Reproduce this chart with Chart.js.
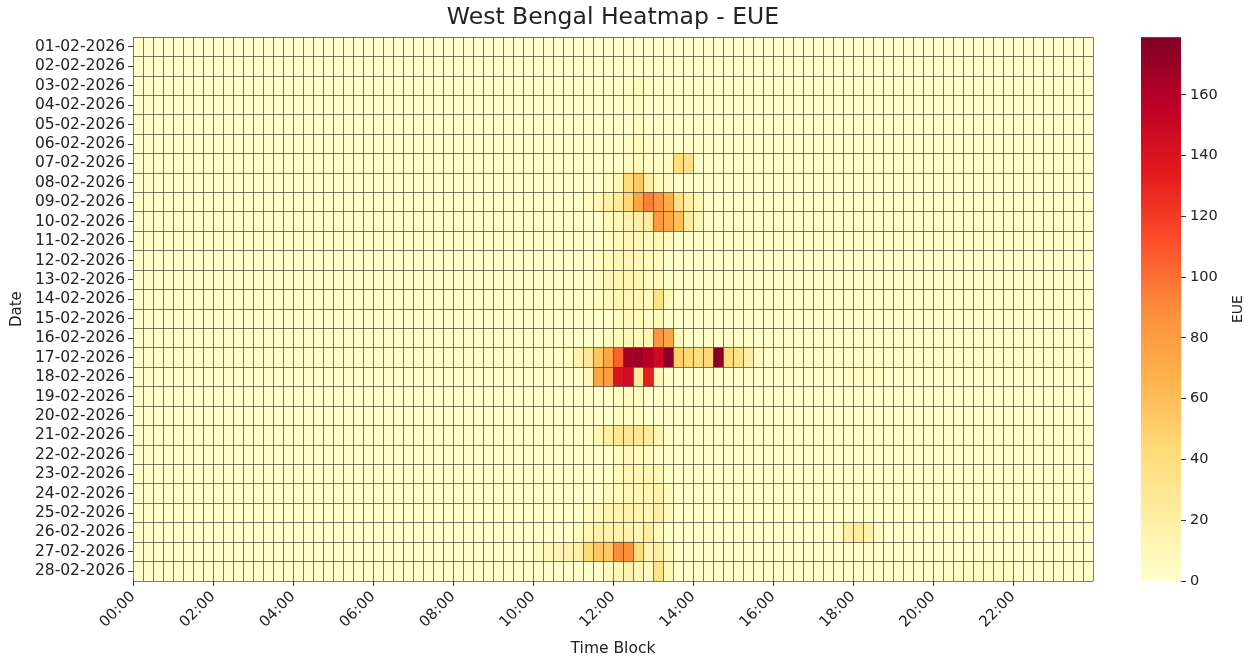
<!DOCTYPE html>
<html>
<head>
<meta charset="utf-8">
<title>West Bengal Heatmap - EUE</title>
<script src="https://cdn.jsdelivr.net/npm/chart.js@4.4.1/dist/chart.umd.min.js"></script>
<style>
    html, body { margin: 0; padding: 0; background: #fff; }
    #wrap { width: 1254px; height: 658px; }
</style>
</head>
<body>
<div id="wrap"><canvas id="heatmap" width="1254" height="658"></canvas></div>
<script>
// Rows of the heatmap, top to bottom
const dates = [
    '01-02-2026', '02-02-2026', '03-02-2026', '04-02-2026', '05-02-2026', '06-02-2026', '07-02-2026',
    '08-02-2026', '09-02-2026', '10-02-2026', '11-02-2026', '12-02-2026', '13-02-2026', '14-02-2026',
    '15-02-2026', '16-02-2026', '17-02-2026', '18-02-2026', '19-02-2026', '20-02-2026', '21-02-2026',
    '22-02-2026', '23-02-2026', '24-02-2026', '25-02-2026', '26-02-2026', '27-02-2026', '28-02-2026'
];

// x axis labels, one every 8 blocks of 15 min
const timeTicks = ['00:00', '02:00', '04:00', '06:00', '08:00', '10:00',
                   '12:00', '14:00', '16:00', '18:00', '20:00', '22:00'];
const colorbarTicks = [0, 20, 40, 60, 80, 100, 120, 140, 160];

const blockCount = 96;
const eueMax = 179;

// Non-zero EUE cells: [date index, first time block, values for consecutive blocks]
const eueRuns = [
    [2, 49, [4, 8, 4]],
    [3, 50, [5]],
    [4, 50, [5]],
    [5, 49, [4, 8, 5]],
    [6, 49, [6, 8, 5, 4, 4, 40, 36]],
    [7, 47, [6, 10, 40, 55, 20, 8, 6]],
    [8, 45, [5, 10, 18, 25, 45, 75, 95, 85, 70, 35, 20, 10]],
    [9, 47, [8, 10, 15, 20, 25, 82, 75, 60, 22, 10]],
    [10, 47, [5, 8, 10, 10, 8, 10, 6]],
    [11, 46, [5, 8, 12, 12, 10, 8, 6]],
    [12, 46, [6, 10, 14, 14, 12, 8, 6]],
    [13, 46, [5, 8, 12, 12, 10, 8, 35, 8]],
    [14, 48, [6, 8, 8, 6, 10]],
    [15, 47, [6, 8, 10, 10, 12, 85, 75, 8]],
    [16, 43, [5, 15, 28, 55, 75, 105, 165, 168, 160, 148, 176, 50, 45, 40, 45, 176, 40, 35, 20, 6]],
    [17, 45, [12, 75, 80, 140, 145, 25, 132, 10]],
    [17, 71, [4, 5, 5, 4]],
    [18, 48, [5, 6, 5]],
    [19, 48, [4, 5, 4]],
    [20, 46, [10, 22, 28, 30, 28, 25, 12]],
    [21, 48, [6, 8, 8, 6]],
    [22, 48, [8, 12, 12, 12, 10]],
    [23, 47, [6, 8, 12, 12, 12, 18, 8]],
    [24, 45, [6, 10, 15, 15, 15, 15, 12, 20, 8]],
    [25, 44, [8, 12, 18, 18, 18, 15, 12, 22, 8]],
    [25, 70, [6, 20, 25, 18, 6]],
    [26, 40, [8, 10, 12, 15, 18, 45, 55, 55, 90, 88, 40, 15, 20, 8]],
    [27, 47, [6, 12, 15, 10, 8, 35, 10]],
    [27, 81, [4, 5, 5, 5, 5, 5, 4]]
];

// YlOrRd colour map stops
const ylOrRd = ['#ffffcc', '#ffeda0', '#fed976', '#feb24c', '#fd8d3c', '#fc4e2a', '#e31a1c', '#bd0026', '#800026'];
const lineColor = 'rgba(65, 65, 55, 0.7)';
const textColor = '#222';

Chart.defaults.font.family = 'DejaVu Sans';
Chart.defaults.color = textColor;

function hexToRgb(h) {
    return [1, 3, 5].map(i => parseInt(h.slice(i, i + 2), 16));
}

function colorFor(v) {
    const t = Math.min(Math.max(v / eueMax, 0), 1) * (ylOrRd.length - 1);
    const i = Math.min(Math.floor(t), ylOrRd.length - 2);
    const f = t - i;
    const a = hexToRgb(ylOrRd[i]);
    const b = hexToRgb(ylOrRd[i + 1]);
    const c = a.map((x, k) => Math.round(x + (b[k] - x) * f));
    return `rgb(${c[0]}, ${c[1]}, ${c[2]})`;
}

// Build the grid
const eue = dates.map(() => new Array(blockCount).fill(0));
eueRuns.forEach(([row, start, vals]) => {
    vals.forEach((v, i) => { eue[row][start + i] = v; });
});

// One floating-bar dataset per time block, one bar per date
const datasets = [];
for (let b = 0; b < blockCount; b++) {
    datasets.push({
        label: 'Block ' + b,
        data: dates.map(() => [b, b + 1]),
        backgroundColor: dates.map((_, r) => colorFor(eue[r][b])),
        borderWidth: 0,
        grouped: false,
        barPercentage: 1,
        categoryPercentage: 1,
        xAxisID: 'x',
        yAxisID: 'y'
    });
}

// Colour bar drawn next to its own axis
const colorbarPlugin = {
    id: 'colorbar',
    afterDraw(chart) {
        const { ctx } = chart;
        const gap = chart.scales.gap;
        const cb = chart.scales.cb;
        const barW = 40;
        const grad = ctx.createLinearGradient(0, cb.bottom, 0, cb.top);
        ylOrRd.forEach((c, i) => grad.addColorStop(i / (ylOrRd.length - 1), c));
        ctx.save();
        ctx.fillStyle = grad;
        ctx.fillRect(gap.right - barW, cb.top, barW, cb.bottom - cb.top);
        ctx.translate(cb.right - 16, (cb.top + cb.bottom) / 2);
        ctx.rotate(-Math.PI / 2);
        ctx.textAlign = 'center';
        ctx.textBaseline = 'middle';
        ctx.font = '14px "DejaVu Sans"';
        ctx.fillStyle = textColor;
        ctx.fillText('EUE', 0, 0);
        ctx.restore();
    }
};

new Chart(document.getElementById('heatmap').getContext('2d'), {
    type: 'bar',
    data: { labels: dates, datasets: datasets },
    plugins: [colorbarPlugin],
    options: {
        responsive: false,
        animation: false,
        indexAxis: 'y',
        layout: { padding: 0 },
        plugins: {
            legend: { display: false },
            tooltip: { enabled: false },
            title: {
                display: true,
                text: 'West Bengal Heatmap - EUE',
                fullSize: false,
                color: textColor,
                font: { size: 23.5, weight: 'normal' },
                padding: { top: 4, bottom: 5 }
            }
        },
        scales: {
            // cell borders (vertical)
            x: {
                type: 'linear', position: 'bottom', weight: 0,
                min: 0, max: blockCount,
                afterBuildTicks: ax => { ax.ticks = Array.from({ length: blockCount + 1 }, (_, i) => ({ value: i })); },
                afterFit: ax => { ax.height = 0; },
                ticks: { display: false, autoSkip: false },
                grid: { z: 1, color: lineColor, lineWidth: 1, drawTicks: false },
                border: { display: false }
            },
            // time labels
            xt: {
                type: 'linear', position: 'bottom', weight: 1,
                min: 0, max: blockCount,
                afterBuildTicks: ax => { ax.ticks = timeTicks.map((_, i) => ({ value: i * 8 })); },
                afterFit: ax => { ax.height = 77; },
                ticks: {
                    autoSkip: false, maxRotation: 45, minRotation: 45, padding: 2,
                    font: { size: 15 },
                    callback: v => timeTicks[v / 8]
                },
                grid: { drawOnChartArea: false, tickLength: 5, tickColor: '#333' },
                border: { display: false },
                title: { display: true, text: 'Time Block', font: { size: 15.5 }, padding: { top: 0, bottom: 0 } }
            },
            // cell borders (horizontal)
            y: {
                type: 'category', position: 'left', weight: 0, offset: true,
                afterFit: ax => { ax.width = 0; },
                ticks: { display: false },
                grid: { z: 1, offset: true, color: lineColor, lineWidth: 1, drawTicks: false },
                border: { display: false }
            },
            // date labels
            yl: {
                type: 'category', position: 'left', weight: 1, offset: true,
                afterFit: ax => { ax.width = 133; },
                ticks: { autoSkip: false, padding: 3, font: { size: 15.5 } },
                grid: { drawOnChartArea: false, offset: false, tickLength: 5, tickColor: '#333' },
                border: { display: false },
                title: { display: true, text: 'Date', font: { size: 15 }, padding: { top: 8, bottom: 0 } }
            },
            // space between heatmap and colour bar
            gap: {
                type: 'linear', position: 'right', weight: 0, offset: false,
                afterFit: ax => { ax.width = 88; },
                ticks: { display: false },
                grid: { display: false, offset: false },
                border: { display: false }
            },
            cb: {
                type: 'linear', position: 'right', weight: 1, offset: false,
                min: 0, max: eueMax,
                afterBuildTicks: ax => { ax.ticks = colorbarTicks.map(v => ({ value: v })); },
                afterFit: ax => { ax.width = 73; },
                ticks: { padding: 4, font: { size: 14.5 } },
                grid: { drawOnChartArea: false, offset: false, tickLength: 5, tickColor: '#333' },
                border: { display: false }
            }
        }
    }
});
</script>
</body>
</html>
